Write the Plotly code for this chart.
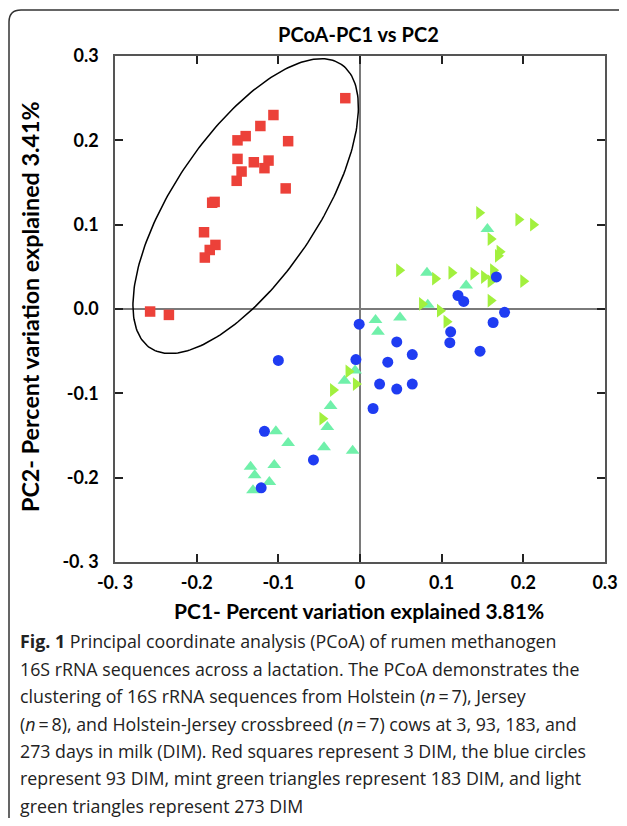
import numpy as np
import plotly.graph_objects as go

# ---------------- data ----------------
red_x = [-0.018, -0.106, -0.122, -0.140, -0.150, -0.088, -0.150, -0.130, -0.112, -0.117, -0.145,
         -0.151, -0.091, -0.178, -0.181, -0.191, -0.177, -0.184, -0.190, -0.257, -0.234]
red_y = [0.250, 0.230, 0.217, 0.205, 0.200, 0.199, 0.178, 0.174, 0.176, 0.167, 0.163,
         0.152, 0.143, 0.127, 0.126, 0.091, 0.076, 0.070, 0.061, -0.003, -0.007]

blue_x = [0.167, 0.120, 0.127, 0.177, 0.163, -0.001, 0.111, 0.110, 0.045, 0.064, 0.147,
          -0.005, 0.034, 0.024, 0.045, 0.064, -0.100, 0.016, -0.117, -0.057, -0.121]
blue_y = [0.038, 0.016, 0.009, -0.004, -0.016, -0.018, -0.027, -0.040, -0.039, -0.054, -0.050,
          -0.060, -0.063, -0.089, -0.095, -0.089, -0.061, -0.118, -0.145, -0.179, -0.212]

mint_x = [0.156, 0.082, 0.130, 0.083, 0.019, 0.049, 0.022, -0.006, -0.019, -0.036, -0.040,
          -0.103, -0.088, -0.044, -0.009, -0.134, -0.105, -0.129, -0.111, -0.131]
mint_y = [0.095, 0.043, 0.028, 0.005, -0.013, -0.010, -0.027, -0.073, -0.085, -0.115, -0.140,
          -0.145, -0.159, -0.164, -0.168, -0.187, -0.185, -0.197, -0.205, -0.215]

lime_x = [0.146, 0.194, 0.212, 0.160, 0.171, 0.169, 0.048, 0.112, 0.139, 0.163, 0.092,
          0.152, 0.160, 0.200, 0.160, 0.076, 0.098, 0.106, -0.014, -0.005, -0.033, -0.046]
lime_y = [0.114, 0.106, 0.100, 0.083, 0.068, 0.063, 0.046, 0.043, 0.042, 0.046, 0.036,
          0.038, 0.033, 0.033, 0.010, 0.006, -0.002, -0.015, -0.074, -0.089, -0.096, -0.130]

tick_vals = [-0.3, -0.2, -0.1, 0.0, 0.1, 0.2, 0.3]
x_tick_text = ["-0. 3", "-0.2", "-0.1", "0", "0.1", "0.2", "0.3"]
y_tick_text = ["-0. 3", "-0.2", "-0.1", "0.0", "0.1", "0.2", "0.3"]

title_text = "PCoA-PC1 vs PC2"
x_title = "PC1- Percent variation explained 3.81%"
y_title = "PC2- Percent variation explained 3.41%"
caption_lines = [
    "<b>Fig. 1</b> Principal coordinate analysis (PCoA) of rumen methanogen",
    "16S rRNA sequences across a lactation. The PCoA demonstrates the",
    "clustering of 16S rRNA sequences from Holstein (<i>n</i>\u2009=\u20097), Jersey",
    "(<i>n</i>\u2009=\u20098), and Holstein-Jersey crossbreed (<i>n</i>\u2009=\u20097) cows at 3, 93, 183, and",
    "273 days in milk (DIM). Red squares represent 3 DIM, the blue circles",
    "represent 93 DIM, mint green triangles represent 183 DIM, and light",
    "green triangles represent 273 DIM",
]

# ---------------- layout geometry ----------------
# The page body has an 8px default margin, so the figure is drawn 8px smaller
# and every screen position is shifted by that offset.
OFF = 8
W, H = 627 - 2 * OFF, 826 - 2 * OFF
L, R, T, B = 115, 605, 56, 562  # plot area in screen pixels
PW, PH = R - L, B - T

def px(x):
    return (x - L) / PW

def py(y):
    return (B - y) / PH

# ellipse (cluster outline) parameters
ell_cx, ell_cy = -0.140, 0.122
ell_a_px, ell_b_px, ell_theta = 171, 72, np.deg2rad(56)
ux, uy = 0.6 / PW, 0.6 / PH
t = np.linspace(0, 2 * np.pi, 241)
dxp = ell_a_px * np.cos(t) * np.cos(ell_theta) - ell_b_px * np.sin(t) * np.sin(ell_theta)
dyp = ell_a_px * np.cos(t) * np.sin(ell_theta) + ell_b_px * np.sin(t) * np.cos(ell_theta)
ell_x = ell_cx + dxp * ux
ell_y = ell_cy + dyp * uy

fig = go.Figure()
fig.add_trace(go.Scatter(x=ell_x, y=ell_y, mode="lines", line=dict(color="black", width=1.5),
                         hoverinfo="skip", showlegend=False))
fig.add_trace(go.Scatter(x=red_x, y=red_y, mode="markers", name="3 DIM",
                         marker=dict(symbol="square", size=10.5, color="#EC4139", line=dict(width=0))))
fig.add_trace(go.Scatter(x=mint_x, y=mint_y, mode="markers", name="183 DIM",
                         marker=dict(symbol="triangle-up", size=12, color="#70F0AA", line=dict(width=0))))
fig.add_trace(go.Scatter(x=lime_x, y=lime_y, mode="markers", name="273 DIM",
                         marker=dict(symbol="triangle-right", size=12, color="#A2F03E", line=dict(width=0))))
fig.add_trace(go.Scatter(x=blue_x, y=blue_y, mode="markers", name="93 DIM",
                         marker=dict(symbol="circle", size=11, color="#1F3CF2", line=dict(width=0))))

tick_font = dict(family="Lato", size=18, color="black", weight="bold")
axis_common = dict(
    range=[-0.3, 0.3], tickvals=tick_vals, showgrid=False,
    zeroline=True, zerolinecolor="#7a7a7a", zerolinewidth=1.5,
    showline=True, linecolor="#555555", linewidth=1.5, mirror="ticks",
    ticks="inside", ticklen=8, tickwidth=2, tickcolor="#222222",
    tickfont=tick_font, fixedrange=True,
)
fig.update_xaxes(**axis_common, ticktext=x_tick_text, ticklabelstandoff=4)
fig.update_yaxes(**axis_common, ticktext=y_tick_text, ticklabelstandoff=11)

annotations = [
    dict(text="<b>" + title_text + "</b>", x=px(358), y=py(34), xref="paper", yref="paper",
         showarrow=False, xanchor="center", yanchor="middle",
         font=dict(family="Lato", size=20, color="black")),
    dict(text="<b>" + x_title + "</b>", x=px(359), y=py(610), xref="paper", yref="paper",
         showarrow=False, xanchor="center", yanchor="middle",
         font=dict(family="Lato", size=21, color="black")),
    dict(text="<b>" + y_title + "</b>", x=px(30), y=py(307), xref="paper", yref="paper",
         showarrow=False, xanchor="center", yanchor="middle", textangle=-90,
         font=dict(family="Lato", size=23.3, color="black")),
]
for i, line in enumerate(caption_lines):
    annotations.append(dict(text=line, x=px(18), y=py(641 + i * 27.5), xref="paper", yref="paper",
                            showarrow=False, xanchor="left", yanchor="middle", align="left",
                            font=dict(family="Open Sans", size=17.8, color="#222222")))

# rounded outer border (left + top edges)
r = 12
border_path = (f"M {px(9)},{py(830)} L {px(9)},{py(10 + r)} "
               f"Q {px(9)},{py(10)} {px(9 + r)},{py(10)} L {px(640)},{py(10)}")

fig.update_layout(
    width=W, height=H,
    margin=dict(l=L - OFF, r=(W + OFF) - R, t=T - OFF, b=(H + OFF) - B, autoexpand=False),
    paper_bgcolor="white", plot_bgcolor="white",
    showlegend=False,
    annotations=annotations,
    shapes=[dict(type="path", path=border_path, xref="paper", yref="paper",
                 line=dict(color="#333333", width=1.5))],
)

fig.write_html("out.html")
